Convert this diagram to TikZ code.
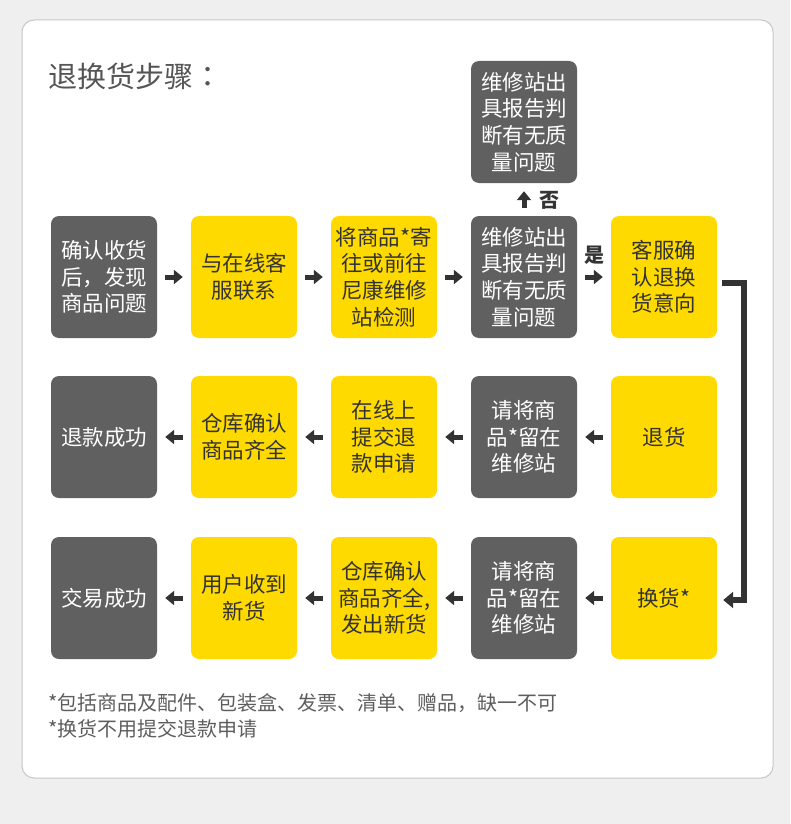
\documentclass[tikz,border=0pt]{standalone}
\usepackage{fontspec}
\setmainfont{Noto Sans CJK SC}
\newfontfamily\tcfont{Noto Sans CJK TC}
\usetikzlibrary{arrows.meta}
\definecolor{bg}{HTML}{EFEFEF}
\definecolor{cardline}{HTML}{C6C6C6}
\definecolor{darkbox}{HTML}{606060}
\definecolor{yelbox}{HTML}{FFDA00}
\definecolor{ink}{HTML}{333333}
\definecolor{titlec}{HTML}{555555}
\definecolor{notec}{HTML}{5E5E5E}
\tikzset{
  boxbase/.style={rectangle, rounded corners=8pt, minimum width=106pt, minimum height=122pt,
    inner sep=0pt, align=center, font=\fontsize{21.5}{26.7}\selectfont},
  dbox/.style={boxbase, fill=darkbox, text=white},
  ybox/.style={boxbase, fill=yelbox, text=ink},
  arr/.style={draw=ink, line width=5pt, -{Triangle[length=9pt,width=14pt]}},
  brk/.style={draw=ink, line width=6pt, -{Triangle[length=10pt,width=16pt]}},
  lbl/.style={text=ink, font=\fontsize{20}{24}\selectfont\bfseries, inner sep=0pt},
  note/.style={anchor=west, text=notec, font=\fontsize{20}{26}\selectfont, inner sep=0pt},
}
\begin{document}
\begin{tikzpicture}[x=1pt,y=-1pt]
\useasboundingbox (0,0) rectangle (790,824);
\fill[bg] (0,0) rectangle (790,824);
\draw[cardline, fill=white, line width=1pt, rounded corners=12pt] (22,20) rectangle (773,778);
\node[anchor=west, text=titlec, font=\fontsize{29}{34}\selectfont, inner sep=0pt] (title) at (48,76) {退换货步骤{\tcfont ：}};
% row 1
\node[dbox] (a1) at (104,277) {确认收货\\后，发现\\商品问题};
\node[ybox] (a2) at (244,277) {与在线客\\服联系};
\node[ybox] (a3) at (384,277) {将商品*寄\\往或前往\\尼康维修\\站检测};
\node[dbox] (a4) at (524,277) {维修站出\\具报告判\\断有无质\\量问题};
\node[ybox] (a5) at (664,277) {客服确\\认退换\\货意向};
\node[dbox] (t4) at (524,122) {维修站出\\具报告判\\断有无质\\量问题};
% row 2
\node[ybox] (b5) at (664,437) {退货};
\node[dbox] (b4) at (524,437) {请将商\\品*留在\\维修站};
\node[ybox] (b3) at (384,437) {在线上\\提交退\\款申请};
\node[ybox] (b2) at (244,437) {仓库确认\\商品齐全};
\node[dbox] (b1) at (104,437) {退款成功};
% row 3
\node[ybox] (c5) at (664,598) {换货*};
\node[dbox] (c4) at (524,598) {请将商\\品*留在\\维修站};
\node[ybox] (c3) at (384,598) {仓库确认\\商品齐全,\\发出新货};
\node[ybox] (c2) at (244,598) {用户收到\\新货};
\node[dbox] (c1) at (104,598) {交易成功};
% arrows row 1
\draw[arr] ([xshift=8pt]a1.east) -- ([xshift=-8pt]a2.west);
\draw[arr] ([xshift=8pt]a2.east) -- ([xshift=-8pt]a3.west);
\draw[arr] ([xshift=8pt]a3.east) -- ([xshift=-8pt]a4.west);
\draw[arr] ([xshift=8pt]a4.east) -- ([xshift=-8pt]a5.west);
\node[lbl] (yes) at (594,255) {是};
\draw[arr] ([yshift=8pt]a4.north) -- ([yshift=-8pt]t4.south);
\node[lbl] (no) at (549,200) {否};
% arrows row 2
\draw[arr] ([xshift=-8pt]b5.west) -- ([xshift=8pt]b4.east);
\draw[arr] ([xshift=-8pt]b4.west) -- ([xshift=8pt]b3.east);
\draw[arr] ([xshift=-8pt]b3.west) -- ([xshift=8pt]b2.east);
\draw[arr] ([xshift=-8pt]b2.west) -- ([xshift=8pt]b1.east);
% arrows row 3
\draw[arr] ([xshift=-8pt]c5.west) -- ([xshift=8pt]c4.east);
\draw[arr] ([xshift=-8pt]c4.west) -- ([xshift=8pt]c3.east);
\draw[arr] ([xshift=-8pt]c3.west) -- ([xshift=8pt]c2.east);
\draw[arr] ([xshift=-8pt]c2.west) -- ([xshift=8pt]c1.east);
% bracket
\draw[brk] ([xshift=5pt,yshift=-6pt]a5.east) -- ++(22,0) |- ([xshift=6pt,yshift=-2pt]c5.east);
% notes
\node[note] (n1) at (48,703) {*包括商品及配件、包装盒、发票、清单、赠品，缺一不可};
\node[note] (n2) at (48,729) {*换货不用提交退款申请};
\end{tikzpicture}
\end{document}
